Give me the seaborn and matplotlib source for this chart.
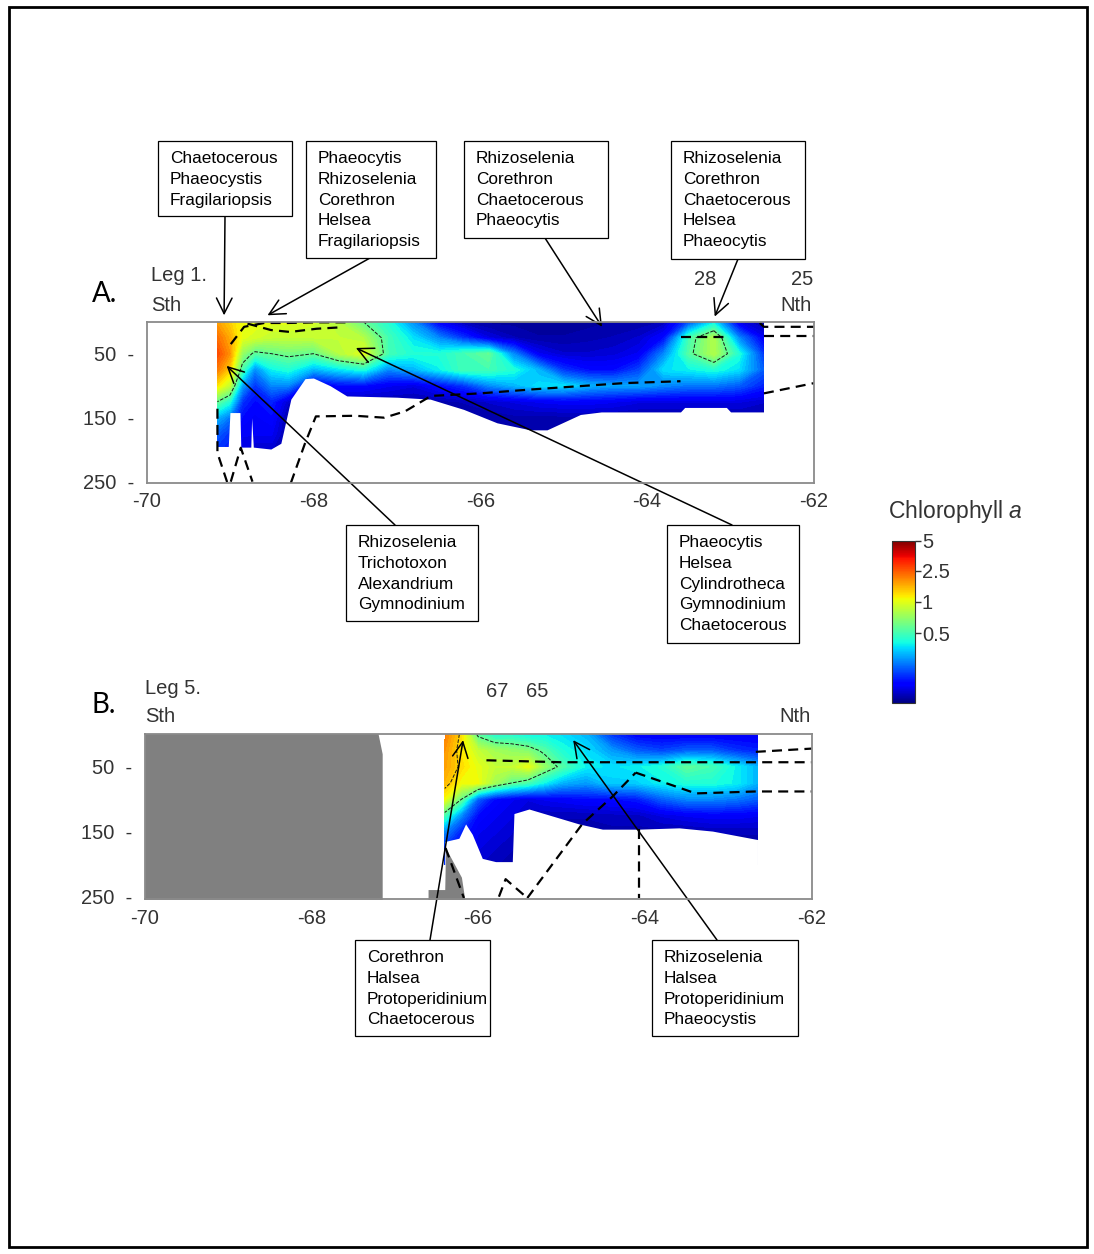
import numpy as np
import matplotlib
matplotlib.use("Agg")
import matplotlib.pyplot as plt
from matplotlib.patches import Rectangle
from matplotlib.colors import Normalize
from matplotlib.cm import ScalarMappable
import seaborn as sns

W, H = 1094, 1254

# ---------------------------------------------------------------- data
depths = [0, 25, 50, 75, 100, 125, 150, 175, 200]

# Leg 1 section: chlorophyll a (mg m-3), one row per depth, one column per station
lon_leg1 = [-69.15, -69.0, -68.85, -68.7, -68.5, -68.3, -68.0, -67.7, -67.4, -67.1,
            -66.8, -66.5, -66.2, -65.9, -65.6, -65.3, -65.0, -64.7, -64.4, -64.1,
            -63.8, -63.5, -63.2, -62.9, -62.6]
chl_leg1 = [
    [1.9, 1.5, 1.1, 1.05, 1.0, 1.0, 0.95, 0.85, 0.6, 0.45, 0.3, 0.12, 0.05, 0.03, 0.03, 0.03, 0.03, 0.03, 0.04, 0.04, 0.06, 0.22, 0.4, 0.1, 0.04],
    [2.3, 1.8, 1.0, 0.95, 0.9, 0.9, 0.9, 0.9, 0.85, 0.5, 0.4, 0.3, 0.2, 0.1, 0.06, 0.04, 0.04, 0.05, 0.06, 0.08, 0.15, 0.5, 0.85, 0.3, 0.12],
    [2.7, 2.0, 0.75, 0.55, 0.6, 0.65, 0.6, 0.85, 1.0, 0.5, 0.45, 0.45, 0.5, 0.6, 0.3, 0.12, 0.08, 0.08, 0.09, 0.12, 0.3, 0.55, 0.85, 0.45, 0.2],
    [2.2, 1.5, 0.5, 0.3, 0.42, 0.45, 0.35, 0.4, 0.45, 0.3, 0.35, 0.42, 0.5, 0.5, 0.45, 0.35, 0.2, 0.15, 0.15, 0.22, 0.4, 0.42, 0.45, 0.4, 0.25],
    [1.3, 0.9, 0.33, 0.2, 0.3, 0.3, 0.1, 0.15, 0.15, 0.12, 0.1, 0.15, 0.2, 0.3, 0.35, 0.4, 0.4, 0.35, 0.33, 0.33, 0.3, 0.28, 0.28, 0.25, 0.18],
    [0.6, 0.45, 0.2, 0.15, 0.18, 0.08, 0.05, 0.05, 0.05, 0.05, 0.05, 0.05, 0.06, 0.08, 0.1, 0.12, 0.13, 0.13, 0.12, 0.1, 0.1, 0.1, 0.1, 0.1, 0.08],
    [0.35, 0.28, 0.15, 0.13, 0.15, 0.04, 0.04, 0.04, 0.04, 0.04, 0.04, 0.04, 0.04, 0.04, 0.05, 0.05, 0.05, 0.05, 0.05, 0.05, 0.05, 0.05, 0.05, 0.05, 0.04],
    [0.25, 0.2, 0.12, 0.12, 0.12, 0.04, 0.04, 0.04, 0.04, 0.04, 0.04, 0.04, 0.04, 0.04, 0.04, 0.04, 0.04, 0.04, 0.04, 0.04, 0.04, 0.04, 0.04, 0.04, 0.04],
    [0.2, 0.18, 0.1, 0.08, 0.08, 0.04, 0.04, 0.04, 0.04, 0.04, 0.04, 0.04, 0.04, 0.04, 0.04, 0.04, 0.04, 0.04, 0.04, 0.04, 0.04, 0.04, 0.04, 0.04, 0.04],
]
# deepest sample of each cast (m) along Leg 1
cast_lon_leg1 = [-69.15, -69.02, -69.0, -68.88, -68.87, -68.75, -68.74, -68.72, -68.51, -68.39,
                 -68.27, -68.1, -68.0, -67.8, -67.6, -67.0, -66.6, -66.2, -65.8, -65.4,
                 -65.2, -64.8, -64.55, -64.5, -63.6, -63.55, -63.05, -63.0, -62.6]
cast_depth_leg1 = [195, 195, 142, 142, 196, 196, 150, 196, 199, 190,
                   121, 89, 88, 100, 116, 118, 121, 137, 158, 169,
                   169, 145, 141, 141, 141, 134, 134, 141, 141]

# Leg 5 section
lon_leg5 = [-66.4, -66.2, -66.0, -65.8, -65.6, -65.4, -65.2, -65.0, -64.7, -64.4,
            -64.1, -63.8, -63.5, -63.2, -62.9, -62.65]
chl_leg5 = [
    [2.2, 1.4, 0.55, 0.45, 0.45, 0.42, 0.42, 0.4, 0.35, 0.2, 0.13, 0.12, 0.12, 0.12, 0.12, 0.12],
    [2.0, 1.3, 0.9, 0.8, 0.75, 0.7, 0.55, 0.45, 0.4, 0.32, 0.25, 0.22, 0.25, 0.25, 0.2, 0.18],
    [1.9, 1.4, 1.0, 0.9, 0.9, 1.05, 0.75, 0.55, 0.42, 0.4, 0.42, 0.45, 0.58, 0.5, 0.42, 0.35],
    [1.7, 1.1, 1.1, 0.8, 0.6, 0.5, 0.42, 0.35, 0.32, 0.38, 0.38, 0.42, 0.45, 0.45, 0.42, 0.35],
    [1.1, 0.6, 0.25, 0.15, 0.12, 0.1, 0.12, 0.13, 0.15, 0.15, 0.17, 0.25, 0.3, 0.3, 0.28, 0.25],
    [0.5, 0.3, 0.15, 0.12, 0.1, 0.06, 0.06, 0.06, 0.06, 0.07, 0.07, 0.1, 0.12, 0.13, 0.13, 0.12],
    [0.3, 0.18, 0.12, 0.1, 0.08, 0.05, 0.05, 0.05, 0.05, 0.05, 0.05, 0.05, 0.05, 0.06, 0.06, 0.06],
    [0.2, 0.15, 0.1, 0.08, 0.06, 0.05, 0.05, 0.05, 0.05, 0.05, 0.05, 0.05, 0.05, 0.05, 0.05, 0.05],
    [0.2, 0.15, 0.08, 0.06, 0.05, 0.05, 0.05, 0.05, 0.05, 0.05, 0.05, 0.05, 0.05, 0.05, 0.05, 0.05],
]
cast_lon_leg5 = [-66.4, -66.23, -66.15, -66.07, -65.95, -65.79, -65.59, -65.57, -65.39, -64.79,
                 -64.51, -64.07, -63.59, -63.19, -62.65]
cast_depth_leg5 = [165, 160, 138, 154, 191, 196, 196, 122, 115, 138,
                   146, 146, 144, 149, 162]

# shelf and ridge (grey) along Leg 5
shelf_lon_leg5 = [-70.0, -67.23, -67.15, -67.15]
shelf_top_leg5 = [-20, -20, 30, 300]
ridge_lon_leg5 = [-66.6, -66.4, -66.39, -66.2, -66.16]
ridge_top_leg5 = [239, 239, 175, 220, 254]

# density isolines (dashed)
isolines_leg1 = [
    ([-68.27, -68.1, -67.97, -67.5, -67.15, -66.9, -66.59, -66.0, -65.4, -64.28, -63.6],
     [252, 190, 148, 147, 150, 140, 116, 112, 106, 96, 93]),
    ([-62.6, -62.0], [112, 96]),
    ([-62.65, -62.6, -62.0], [2, 8, 8]),
    ([-62.6, -62.0], [23, 23]),
    ([-69.15, -69.15, -69.03], [136, 205, 252]),
    ([-68.99, -68.87, -68.73], [250, 197, 250]),
    ([-68.99, -68.83, -68.59, -68.31, -67.96, -67.6], [35, 8, 2, 2, 1, 1]),
    ([-68.79, -68.51, -68.28, -67.96, -67.7], [3, 13, 16, 11, 9]),
    ([-63.6, -63.05], [24, 24]),
]
isolines_leg5 = [
    ([-66.39, -66.17], [175, 252]),
    ([-65.75, -65.67, -65.41], [250, 223, 252]),
    ([-65.41, -64.75, -64.39, -64.11], [252, 138, 96, 59]),
    ([-64.11, -63.39, -62.67, -62.0], [59, 91, 88, 88]),
    ([-64.07, -64.07], [146, 252]),
    ([-65.9, -65.0, -64.0, -62.67, -62.0], [40, 43, 43, 43, 43]),
    ([-62.67, -62.0], [27, 22]),
]

# colour scale of the bar: chlorophyll value -> position along the bar
chl_scale = [0, 0.5, 1, 2.5, 5]
bar_pos = [0, 0.43, 0.624, 0.815, 1.0]
cbar_ticks = [0.5, 1, 2.5, 5]
cbar_labels = ["0.5", "1", "2.5", "5"]

lon_ticks = [-70, -68, -66, -64, -62]
depth_ticks = [50, 150, 250]

# species boxes: lines, box (left, top, right, bottom) in px, arrow start px, arrow tip (lon, depth)
boxes_leg1 = [
    (["Chaetocerous", "Phaeocystis", "Fragilariopsis"], (158, 141, 292, 216), (225, 216), (-69.07, -10)),
    (["Phaeocytis", "Rhizoselenia", "Corethron", "Helsea", "Fragilariopsis"], (306, 141, 436, 258), (370, 258), (-68.55, -10)),
    (["Rhizoselenia", "Corethron", "Chaetocerous", "Phaeocytis"], (464, 141, 608, 238), (545, 238), (-64.54, 8)),
    (["Rhizoselenia", "Corethron", "Chaetocerous", "Helsea", "Phaeocytis"], (671, 141, 805, 259), (738, 259), (-63.19, -8)),
    (["Rhizoselenia", "Trichotoxon", "Alexandrium", "Gymnodinium"], (346, 525, 478, 621), (395, 525), (-69.04, 69)),
    (["Phaeocytis", "Helsea", "Cylindrotheca", "Gymnodinium", "Chaetocerous"], (667, 525, 799, 643), (732, 525), (-67.49, 41)),
]
boxes_leg5 = [
    (["Corethron", "Halsea", "Protoperidinium", "Chaetocerous"], (355, 940, 490, 1036), (430, 940), (-66.18, 9)),
    (["Rhizoselenia", "Halsea", "Protoperidinium", "Phaeocystis"], (652, 940, 798, 1036), (717, 940), (-64.86, 9)),
]

# ---------------------------------------------------------------- style
sns.set_theme(style="white")
plt.rcParams["font.family"] = ["Liberation Sans", "DejaVu Sans"]
plt.rcParams["axes.unicode_minus"] = False
plt.rcParams["mathtext.fontset"] = "custom"
plt.rcParams["mathtext.rm"] = "Liberation Sans"
plt.rcParams["mathtext.it"] = "Liberation Sans:italic"

GREY_TXT = "#333333"
cmap = matplotlib.colormaps["jet"]
levels = np.linspace(0, 1, 61)

fig = plt.figure(figsize=(W / 100, H / 100), dpi=100)
fig.patch.set_facecolor("white")


def fx(x):
    return x / W


def fy(y):
    return 1 - y / H


def section(ax, lon, chl, cast_lon, cast_depth, isolines, ymax, outline_levels):
    z = np.interp(np.asarray(chl, float), chl_scale, bar_pos)
    ax.contourf(lon, depths, z, levels=levels, cmap=cmap, vmin=0, vmax=1, zorder=1)
    ax.contour(lon, depths, z, levels=np.interp(outline_levels, chl_scale, bar_pos),
               colors="#1a1a1a", linewidths=0.7, linestyles="--", zorder=1.5)
    ax.fill_between(cast_lon, cast_depth, 400, color="white", lw=0, zorder=2)
    for xs, ys in isolines:
        sns.lineplot(x=xs, y=ys, ax=ax, color="black", lw=1.6, sort=False,
                     estimator=None, linestyle=(0, (4.5, 2.8)), zorder=3)
    ax.set_xlim(-70, -62)
    ax.set_ylim(ymax, 0)
    ax.set_xticks(lon_ticks)
    ax.set_xticklabels([str(v) for v in lon_ticks])
    ax.set_yticks(depth_ticks)
    ax.set_yticklabels([f"{d}  -" for d in depth_ticks])
    ax.set_xlabel("")
    ax.set_ylabel("")
    ax.tick_params(axis="both", length=0, labelsize=14.5, colors=GREY_TXT)
    ax.tick_params(axis="x", pad=7)
    ax.tick_params(axis="y", pad=9)
    for s in ax.spines.values():
        s.set_color("#8a8a8a")
        s.set_linewidth(1.3)
        s.set_zorder(4)


# panel A: Leg 1
ax_a = fig.add_axes([fx(146.5), fy(482.7), 667.5 / W, 161 / H])
section(ax_a, lon_leg1, chl_leg1, cast_lon_leg1, cast_depth_leg1, isolines_leg1, 251.6, [0.6])

# panel B: Leg 5
ax_b = fig.add_axes([fx(144.5), fy(899.3), 667.2 / W, 165 / H])
ax_b.fill_between(shelf_lon_leg5, shelf_top_leg5, 400, color="#808080", lw=0, zorder=2.5)
ax_b.fill_between(ridge_lon_leg5, ridge_top_leg5, 400, color="#808080", lw=0, zorder=2.5)
section(ax_b, lon_leg5, chl_leg5, cast_lon_leg5, cast_depth_leg5, isolines_leg5, 254, [0.6, 1.5])

# colour bar
cax = fig.add_axes([fx(891.7), fy(703.3), 23.3 / W, 162.6 / H])
cb = fig.colorbar(ScalarMappable(Normalize(0, 1), cmap=cmap), cax=cax)
cb.set_ticks(np.interp(cbar_ticks, chl_scale, bar_pos))
cb.set_ticklabels(cbar_labels)
cax.tick_params(length=4, width=1.0, colors=GREY_TXT, labelsize=14.5, pad=1, direction="out")
cb.outline.set_edgecolor("#333333")
cb.outline.set_linewidth(0.8)
fig.text(fx(888), fy(518), "Chlorophyll $\\mathit{a}$", fontsize=16.5, color=GREY_TXT,
         ha="left", va="baseline")


# section annotations
def mtext(x, y, s, ha="left"):
    fig.text(fx(x), fy(y), s, fontsize=14.5, color=GREY_TXT, ha=ha, va="baseline")


mtext(151, 281, "Leg 1.")
mtext(151, 311, "Sth")
mtext(705, 285, "28", ha="center")
mtext(802, 285, "25", ha="center")
mtext(812, 311, "Nth", ha="right")

mtext(145, 694, "Leg 5.")
mtext(145, 722, "Sth")
mtext(497, 697, "67", ha="center")
mtext(537, 697, "65", ha="center")
mtext(811, 722, "Nth", ha="right")

fig.text(fx(92), fy(302), "A.", fontsize=20, family="Lato", color="black", va="baseline")
fig.text(fx(92), fy(713), "B.", fontsize=20, family="Lato", color="black", va="baseline")

arrow_kw = dict(arrowstyle="->,head_length=0.8,head_width=0.4", color="black", lw=1.1,
                shrinkA=0, shrinkB=0, mutation_scale=14)
for ax, boxes in ((ax_a, boxes_leg1), (ax_b, boxes_leg5)):
    for lines, (l, t, r, b), (sx, sy), tip in boxes:
        fig.patches.append(Rectangle((fx(l), fy(b)), (r - l) / W, (b - t) / H,
                                     transform=fig.transFigure, facecolor="white",
                                     edgecolor="black", lw=0.9, zorder=5))
        fig.text(fx(l + 12), fy(t + 10), "\n".join(lines), fontsize=12.4, color="black",
                 ha="left", va="top", linespacing=1.48, zorder=6)
        ax.annotate("", xy=tip, xycoords="data", xytext=(sx, H - sy),
                    textcoords="figure pixels", arrowprops=arrow_kw,
                    annotation_clip=False, zorder=4)

# page frame
fig.patches.append(Rectangle((fx(9), fy(1247)), (1087 - 9) / W, (1247 - 7) / H,
                             transform=fig.transFigure, fill=False, edgecolor="black",
                             lw=2, zorder=10))

fig.savefig("out.png", dpi=100)
